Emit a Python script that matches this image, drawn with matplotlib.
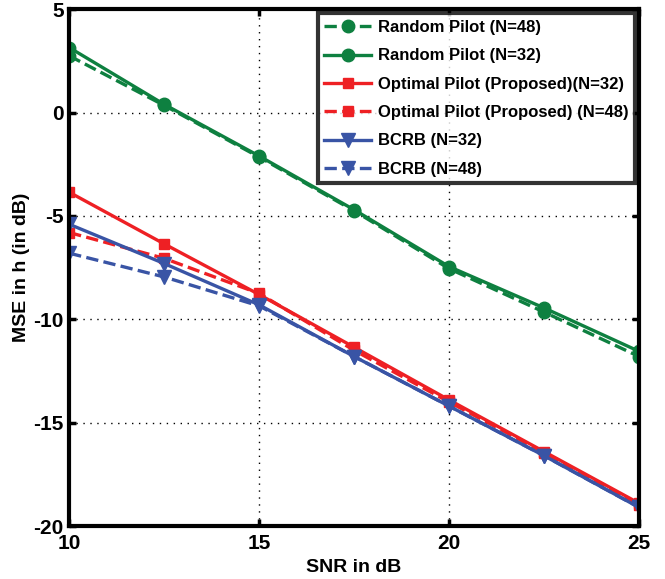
import numpy as np
import matplotlib.pyplot as plt

plt.rcParams['font.family'] = ['Liberation Sans', 'DejaVu Sans']
plt.rcParams['font.weight'] = 'bold'

snr = [10, 12.5, 15, 17.5, 20, 22.5, 25]

random_48 = [2.75, 0.35, -2.15, -4.75, -7.55, -9.65, -11.8]
random_32 = [3.15, 0.4, -2.1, -4.7, -7.45, -9.45, -11.55]
optimal_32 = [-3.85, -6.35, -8.8, -11.35, -13.9, -16.4, -18.9]
optimal_48 = [-5.8, -7.05, -8.75, -11.5, -14.0, -16.45, -19.0]
bcrb_32 = [-5.4, -7.3, -9.3, -11.8, -14.2, -16.6, -19.1]
bcrb_48 = [-6.8, -7.95, -9.35, -11.8, -14.2, -16.6, -19.1]

yticks = [-20, -15, -10, -5, 0, 5]
ytick_labels = ['-20', '-15', '-10', '-5', '0', '5']

green = '#0e8040'
red = '#ee2024'
blue = '#3954a5'

fig = plt.figure(figsize=(6.65, 5.79), dpi=100)
ax = fig.add_axes([0.104, 0.0915, 0.857, 0.8925])

lw = 2.4
ax.plot(snr, random_48, '--', color=green, lw=lw, marker='o', ms=9, label='Random Pilot (N=48)')
ax.plot(snr, random_32, '-', color=green, lw=lw, marker='o', ms=9, label='Random Pilot (N=32)')
ax.plot(snr, optimal_32, '-', color=red, lw=lw, marker='s', ms=7.5, label='Optimal Pilot (Proposed)(N=32)')
ax.plot(snr, optimal_48, '--', color=red, lw=lw, marker='s', ms=7.5, label='Optimal Pilot (Proposed) (N=48)')
ax.plot(snr, bcrb_32, '-', color=blue, lw=lw, marker='v', ms=10, label='BCRB (N=32)')
ax.plot(snr, bcrb_48, '--', color=blue, lw=lw, marker='v', ms=10, label='BCRB (N=48)')

ax.set_xlim(10, 25)
ax.set_ylim(-20, 5)
ax.set_xticks([10, 15, 20, 25])
ax.set_yticks(yticks)
ax.set_yticklabels(ytick_labels)
ax.grid(True, color='black', linestyle=(0, (1, 4)), lw=1.0)
ax.tick_params(direction='in', length=5, width=2.5, labelsize=15, top=True, right=True)
ax.tick_params(axis='y', pad=4)
ax.tick_params(axis='x', pad=6)
for s in ax.spines.values():
    s.set_linewidth(3)

ax.set_xlabel('SNR in dB', fontsize=14, fontweight='bold', labelpad=4)
ax.set_ylabel('MSE in h (in dB)', fontsize=14, fontweight='bold', labelpad=2)

leg = ax.legend(loc='upper right', fontsize=12, frameon=True, fancybox=False,
                edgecolor='black', handlelength=2.8, handletextpad=0.4,
                labelspacing=0.8, borderpad=0.4, borderaxespad=0.25)
leg.get_frame().set_linewidth(3)

fig.savefig('out.png', dpi=100)
